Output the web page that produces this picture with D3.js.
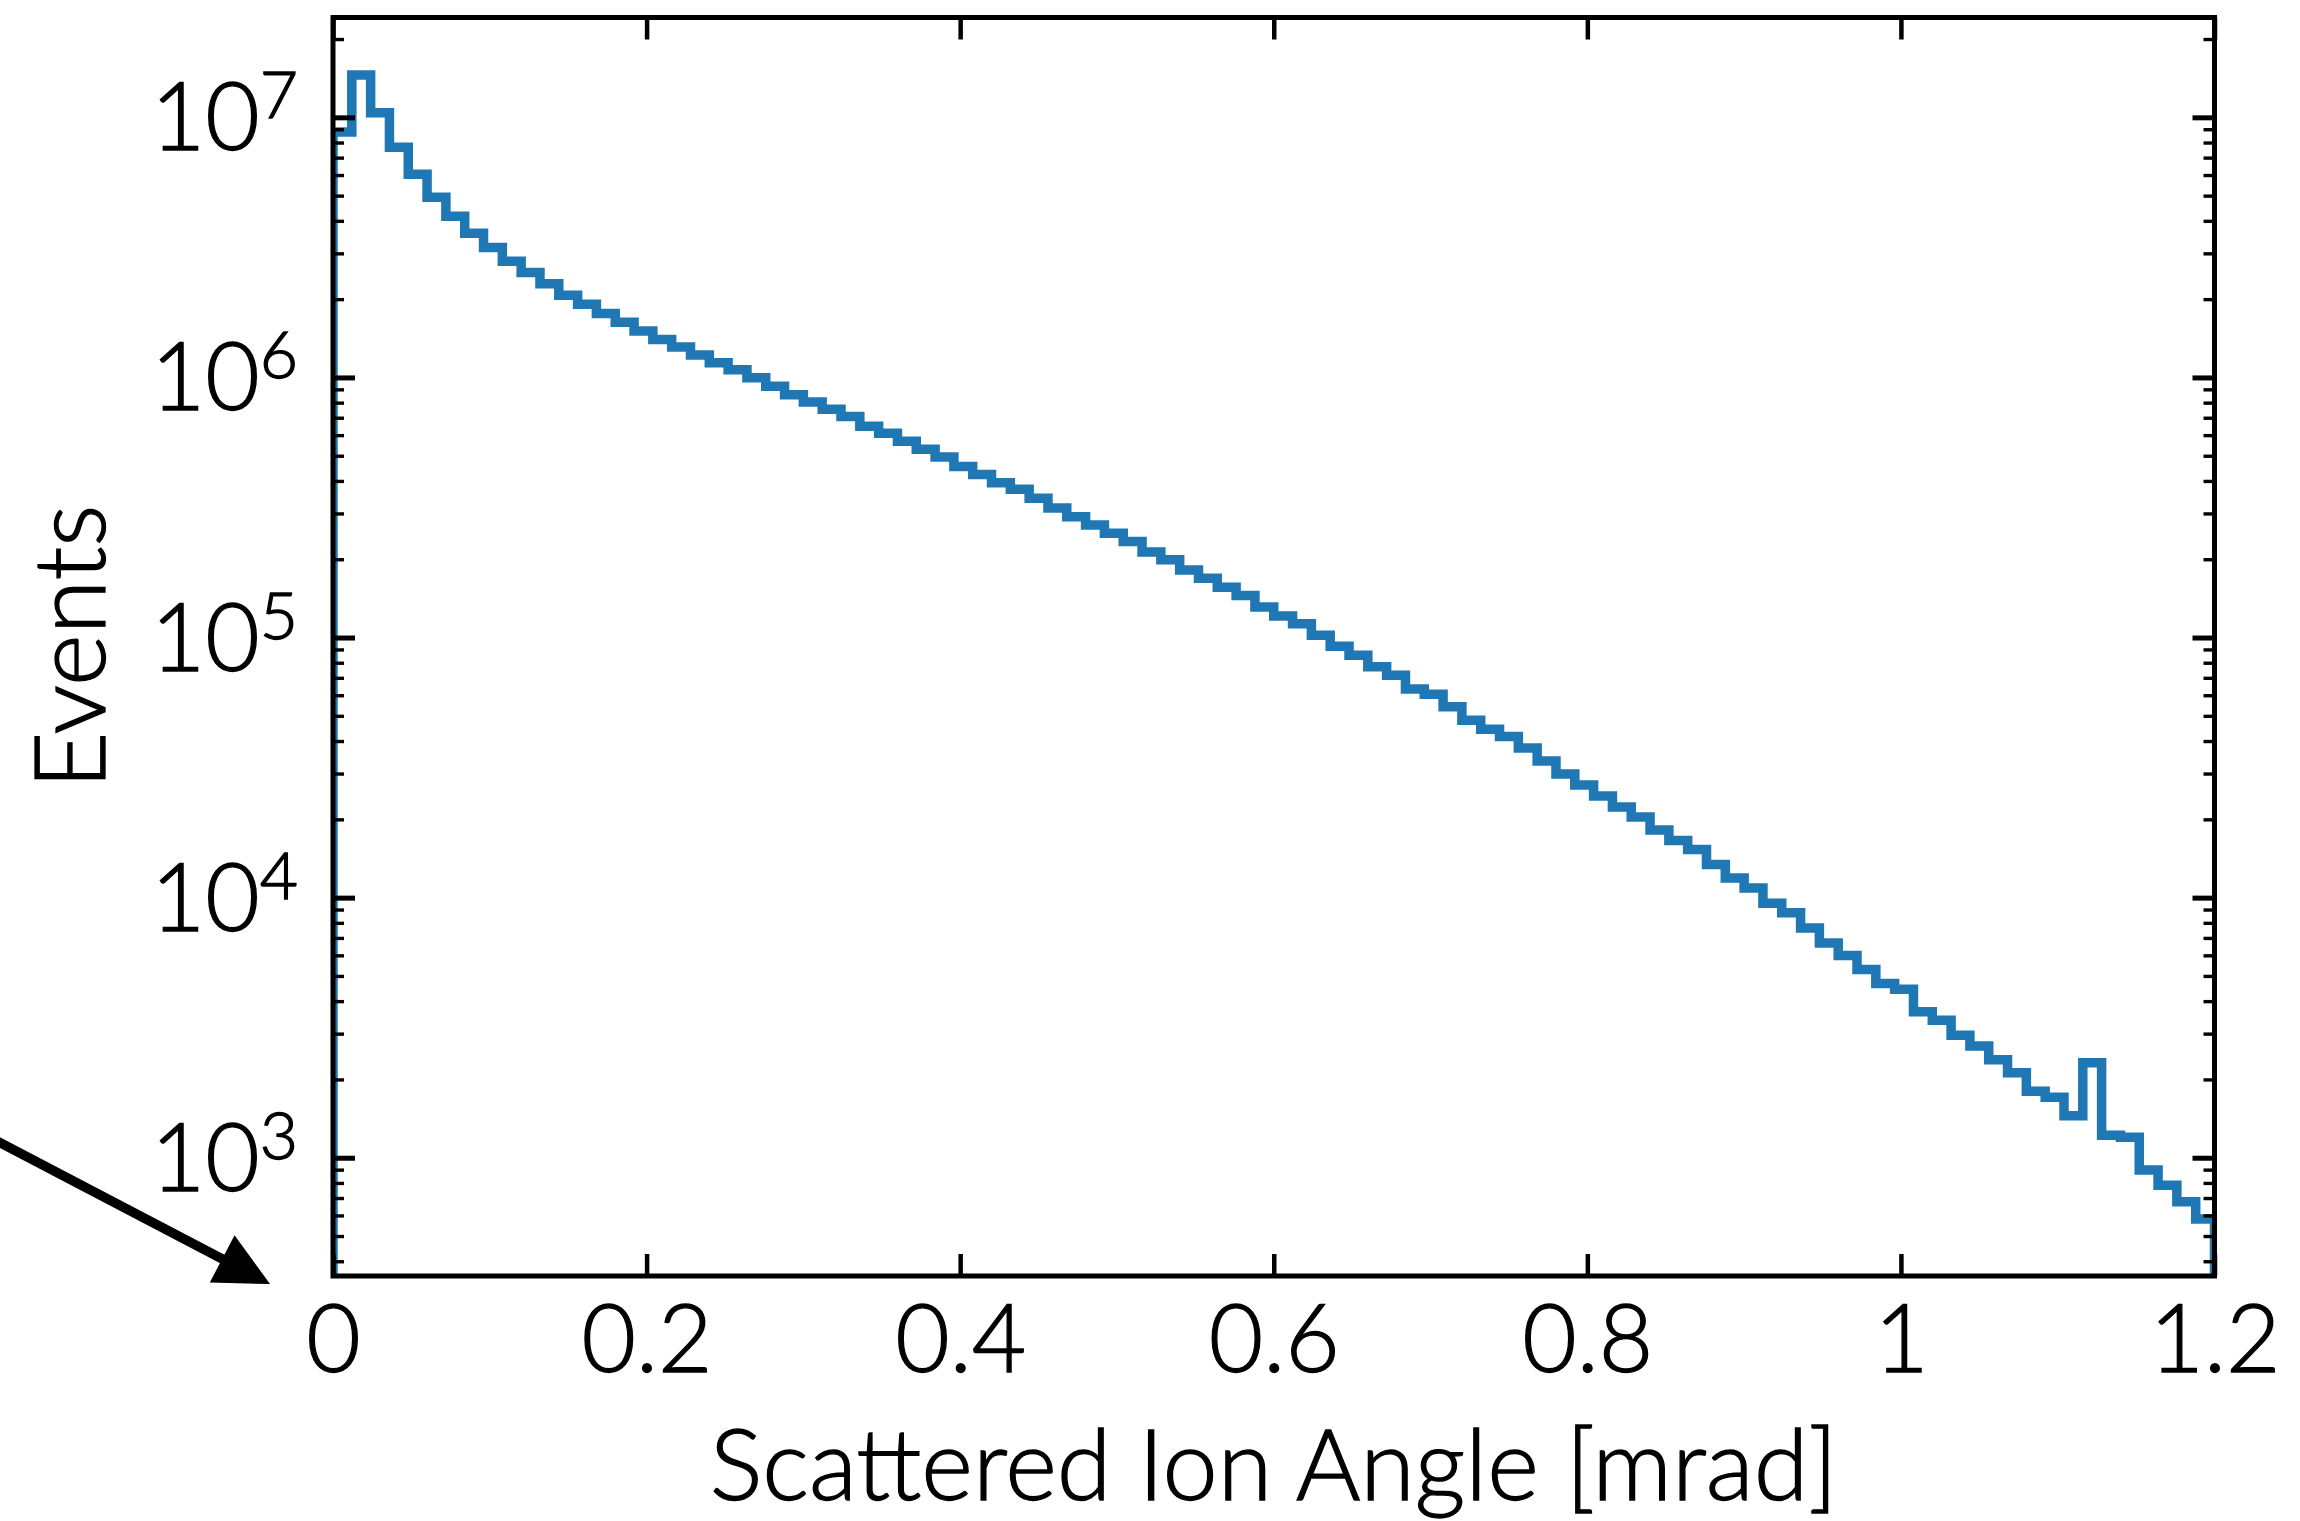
<!DOCTYPE html>
<html lang="en">
<head>
<meta charset="UTF-8">
<title>Scattered Ion Angle</title>
<script src="https://d3js.org/d3.v7.min.js"></script>
<style>
  body { margin: 0; background: #fff; }
  svg { display: block; font-family: Lato, "Open Sans", sans-serif; font-weight: 300; }
  svg text { stroke: #000; stroke-width: 1.3px; }
</style>
</head>
<body>
<svg id="chart" width="2300" height="1521"></svg>
<script>
// histogram, 100 bins of 0.012 mrad between 0 and 1.2
const binStart = 0;
const binWidth = 0.012;
const counts = [
  8.78e6, 1.454e7, 1.042e7, 7.67e6, 6.04e6, 4.93e6, 4.17e6, 3.58e6, 3.16e6, 2.80e6,
  2.53e6, 2.29e6, 2.07e6, 1.91e6, 1.76e6, 1.63e6, 1.51e6, 1.40e6, 1.31e6, 1.22e6,
  1.14e6, 1.07e6, 9.97e5, 9.24e5, 8.58e5, 8.04e5, 7.54e5, 7.07e5, 6.49e5, 6.10e5,
  5.68e5, 5.29e5, 4.94e5, 4.55e5, 4.23e5, 3.94e5, 3.72e5, 3.43e5, 3.15e5, 2.91e5,
  2.71e5, 2.52e5, 2.34e5, 2.13e5, 1.99e5, 1.82e5, 1.69e5, 1.56e5, 1.45e5, 1.31e5,
  1.21e5, 1.13e5, 1.02e5, 9.25e4, 8.54e4, 7.72e4, 7.16e4, 6.34e4, 6.05e4, 5.42e4,
  4.81e4, 4.44e4, 4.16e4, 3.76e4, 3.35e4, 2.99e4, 2.71e4, 2.46e4, 2.23e4, 2.04e4,
  1.82e4, 1.66e4, 1.53e4, 1.34e4, 1.19e4, 1.09e4, 9510, 8750, 7640, 6690,
  5990, 5290, 4680, 4440, 3640, 3380, 2960, 2690, 2380, 2120,
  1800, 1710, 1450, 2320, 1220, 1200, 897, 783, 677, 581
];
const xTicks = [0, 0.2, 0.4, 0.6, 0.8, 1, 1.2];
const yDecades = [3, 4, 5, 6, 7];
const xDomain = [0, 1.2];
const yDomain = [351, 2.42e7];
const xLabel = "Scattered Ion Angle [mrad]";
const yLabel = "Events";

const width = 2300, height = 1521;
const margin = { top: 17.5, right: 85.5, bottom: 245, left: 333 };
const tickFont = 94, titleFont = 99;

const svg = d3.select("#chart");

const x = d3.scaleLinear().domain(xDomain).range([margin.left, width - margin.right]);
const y = d3.scaleLog().domain(yDomain).range([height - margin.bottom, margin.top]);

const x0 = x.range()[0], x1 = x.range()[1];
const yTop = y.range()[1], yBot = y.range()[0];

svg.append("clipPath").attr("id", "plot-clip")
  .append("rect")
  .attr("x", x0).attr("y", yTop)
  .attr("width", x1 - x0).attr("height", yBot - yTop);

// step outline of the histogram
const bins = counts.map((c, i) => ({ a: binStart + i * binWidth, b: binStart + (i + 1) * binWidth, n: c }));
const pts = [[bins[0].a, yDomain[0] / 10]];
bins.forEach(d => { pts.push([d.a, d.n]); pts.push([d.b, d.n]); });
pts.push([bins[bins.length - 1].b, yDomain[0] / 10]);

svg.append("path")
  .datum(pts)
  .attr("clip-path", "url(#plot-clip)")
  .attr("fill", "none")
  .attr("stroke", "#1f77b4")
  .attr("stroke-width", 9.5)
  .attr("stroke-linejoin", "miter")
  .attr("d", d3.line().x(d => x(d[0])).y(d => y(d[1])));

// ticks, all pointing inward
const allY = y.ticks();
const isMajor = v => Math.abs(Math.log10(v) - Math.round(Math.log10(v))) < 1e-9;
const majorY = allY.filter(isMajor);
const minorY = allY.filter(v => !isMajor(v));

function yAxis(gen, xpos) {
  const g = svg.append("g").attr("transform", `translate(${xpos},0)`);
  g.append("g").call(gen(y).tickValues(minorY).tickSize(-11).tickFormat(""))
    .call(s => s.selectAll("line").attr("stroke-width", 3.4));
  g.append("g").call(gen(y).tickValues(majorY).tickSize(-22).tickFormat(""))
    .call(s => s.selectAll("line").attr("stroke-width", 5));
  g.selectAll(".domain").remove();
}
yAxis(d3.axisLeft, x0);
yAxis(d3.axisRight, x1);

const xb = svg.append("g").attr("transform", `translate(0,${yBot})`)
  .call(d3.axisBottom(x).tickValues(xTicks).tickSize(-22).tickSizeOuter(0).tickPadding(0)
    .tickFormat(d => String(d)));
xb.select(".domain").remove();
xb.selectAll("line").attr("stroke-width", 4.5);
xb.selectAll("text")
  .attr("y", 96).attr("dy", null)
  .attr("font-size", tickFont).attr("fill", "#000");
xb.attr("font-family", null);

const xt = svg.append("g").attr("transform", `translate(0,${yTop})`)
  .call(d3.axisTop(x).tickValues(xTicks).tickSize(-22).tickSizeOuter(0).tickFormat(""));
xt.select(".domain").remove();
xt.selectAll("line").attr("stroke-width", 4.5);

// y tick labels as 10^n
const ylab = svg.append("g").selectAll("text")
  .data(yDecades)
  .join("text")
  .attr("x", x0 - 35)
  .attr("y", d => y(Math.pow(10, d)) + 33)
  .attr("text-anchor", "end")
  .attr("font-size", tickFont);
ylab.append("tspan").text("10");
ylab.append("tspan").attr("dy", -32).attr("font-size", 66).text(d => d);

// frame
svg.append("rect")
  .attr("x", x0).attr("y", yTop)
  .attr("width", x1 - x0).attr("height", yBot - yTop)
  .attr("fill", "none").attr("stroke", "#000").attr("stroke-width", 5);

// axis titles
svg.append("text")
  .attr("x", (x0 + x1) / 2).attr("y", 1500)
  .attr("text-anchor", "middle")
  .attr("font-size", titleFont)
  .text(xLabel);

svg.append("text")
  .attr("transform", `translate(105,${(yTop + yBot) / 2}) rotate(-90)`)
  .attr("text-anchor", "middle")
  .attr("font-size", titleFont)
  .text(yLabel);

// arrow pointing at the origin
const tip = [x(0) - 63, y(yDomain[0]) + 8];
const ang = Math.atan2(141.3, 270);
const ux = Math.cos(ang), uy = Math.sin(ang);
const headLen = 54, headHalf = 26.7;
const base = [tip[0] - headLen * ux, tip[1] - headLen * uy];
const tail = [tip[0] - 420 * ux, tip[1] - 420 * uy];

svg.append("line")
  .attr("x1", tail[0]).attr("y1", tail[1])
  .attr("x2", base[0] + 4 * ux).attr("y2", base[1] + 4 * uy)
  .attr("stroke", "#000").attr("stroke-width", 9.5);

svg.append("polygon")
  .attr("points", [
    tip,
    [base[0] + headHalf * uy, base[1] - headHalf * ux],
    [base[0] - headHalf * uy, base[1] + headHalf * ux]
  ].map(p => p.join(",")).join(" "))
  .attr("fill", "#000");
</script>
</body>
</html>
